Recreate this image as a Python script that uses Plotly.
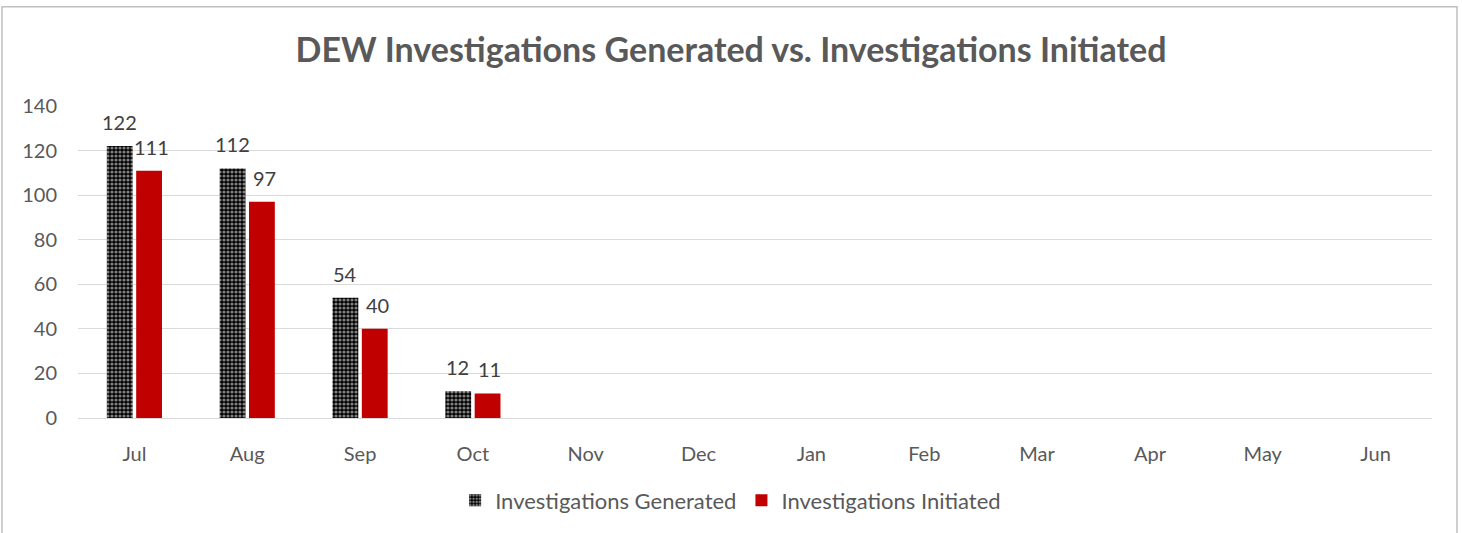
import plotly.graph_objects as go

months = ["Jul", "Aug", "Sep", "Oct", "Nov", "Dec", "Jan", "Feb", "Mar", "Apr", "May", "Jun"]
generated = [122, 112, 54, 12, None, None, None, None, None, None, None, None]
initiated = [111, 97, 40, 11, None, None, None, None, None, None, None, None]

FONT = "Lato"
GREY = "#595959"
LABEL = "#404040"

fig = go.Figure()
fig.add_trace(go.Bar(
    x=months, y=generated, name="Investigations Generated",
    marker=dict(color="black", line=dict(width=0),
                pattern=dict(shape=".", fgcolor="white", bgcolor="black", size=4, solidity=0.5)),
))
fig.add_trace(go.Bar(
    x=months, y=initiated, name="Investigations Initiated",
    marker=dict(color="#c00000", line=dict(width=0)),
))

annotations = []
for series, shift in ((generated, -15), (initiated, 17)):
    for m, v in zip(months, series):
        if v is None:
            continue
        annotations.append(dict(x=m, y=v, xref="x", yref="y", text=str(v), showarrow=False,
                                xanchor="center", yanchor="bottom", xshift=shift, yshift=10,
                                font=dict(family=FONT, size=20, color=LABEL)))

fig.update_layout(
    width=1462, height=533,
    margin=dict(l=78, r=30, t=106, b=113),
    paper_bgcolor="white", plot_bgcolor="white",
    font=dict(family=FONT, color=GREY, size=20),
    title=dict(text="<b>DEW Investigations Generated vs. Investigations Initiated</b>",
               x=0.5, xanchor="center", y=1 - 50 / 533, yanchor="middle",
               font=dict(family=FONT, size=34, color=GREY)),
    bargap=0.48, bargroupgap=0.12, barmode="group",
    legend=dict(orientation="h", x=0.482, xanchor="center", y=(420 - 503) / 314, yanchor="middle",
                font=dict(family=FONT, size=22, color=GREY), itemwidth=30),
    showlegend=True,
    annotations=annotations,
    shapes=[dict(type="rect", xref="paper", yref="paper",
                 x0=(2 - 78) / 1354, x1=(1457 - 78) / 1354,
                 y0=(420 - 545) / 314, y1=(420 - 6) / 314,
                 line=dict(color="#bfbfbf", width=1.5), fillcolor="rgba(0,0,0,0)", layer="below")],
)
fig.update_xaxes(showgrid=False, showline=True, linecolor="#d9d9d9", linewidth=1,
                 ticks="", ticklabelstandoff=18, tickfont=dict(size=20, color=GREY))
fig.update_yaxes(range=[0, 140], dtick=20, showgrid=True, gridcolor="#d9d9d9", gridwidth=1,
                 zeroline=False, showline=False, ticks="", ticklabelstandoff=20,
                 tickfont=dict(size=20, color=GREY))

fig.write_html("out.html", config={"displayModeBar": False},
               post_script="document.body.style.margin='0';")
